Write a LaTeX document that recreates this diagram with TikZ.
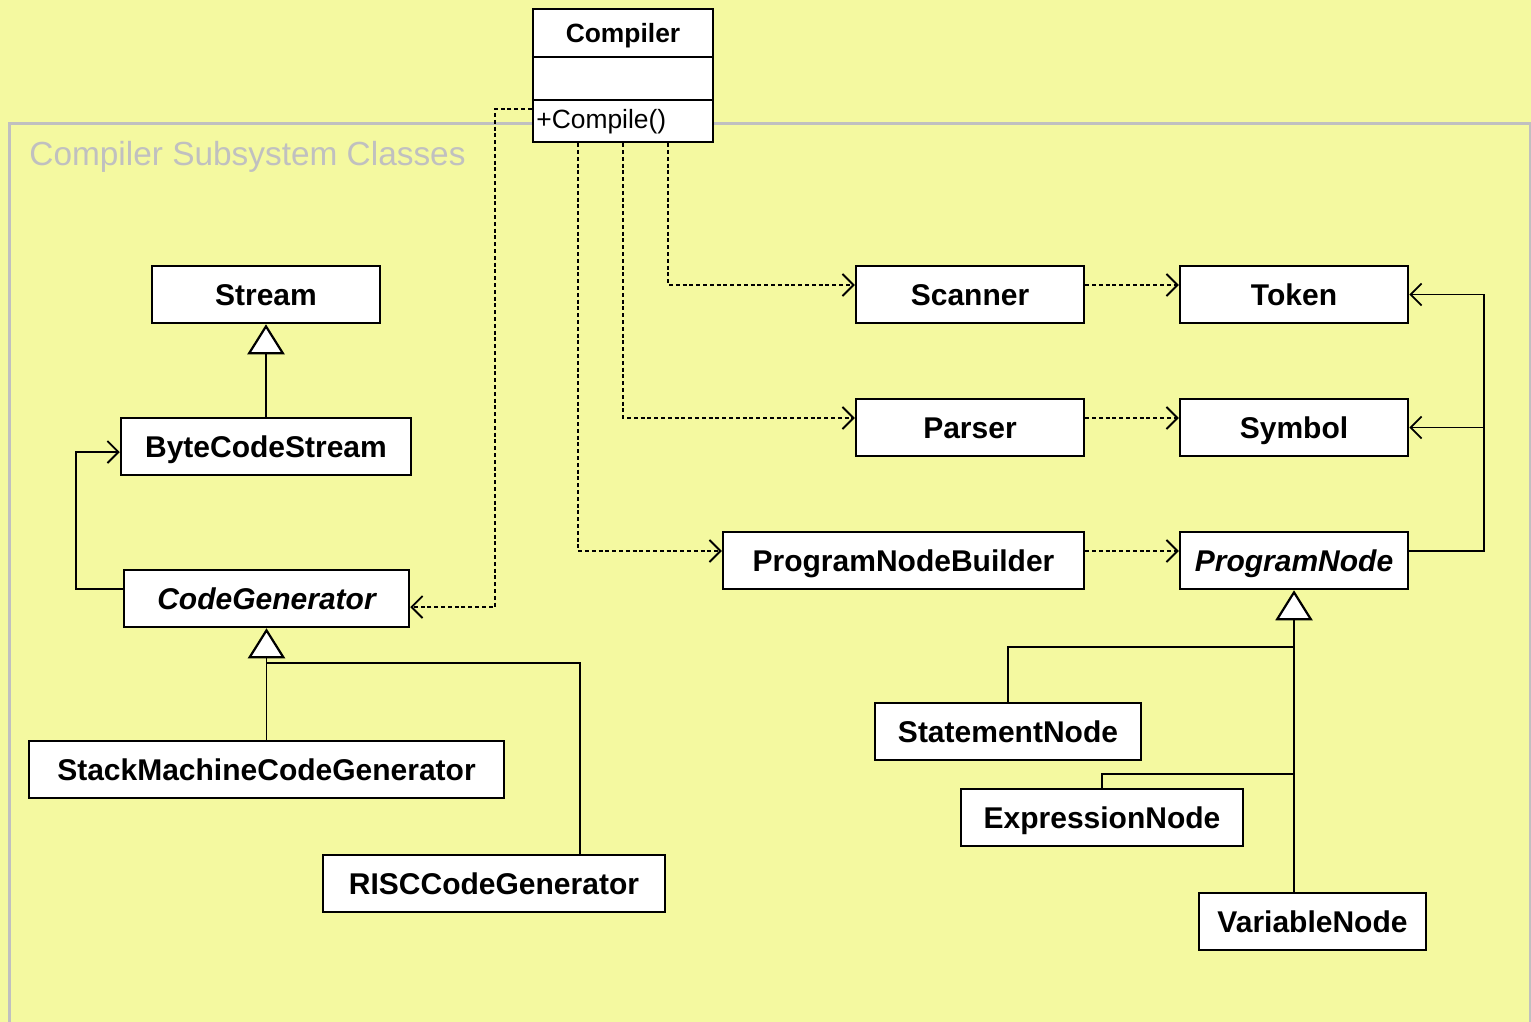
\documentclass[tikz,border=0pt]{standalone}
\usepackage{fontspec}
\setmainfont{Liberation Sans}
\usetikzlibrary{arrows.meta}
\definecolor{bgyellow}{HTML}{F4F9A0}
\definecolor{framegray}{HTML}{C0C0C0}
\begin{document}
\begin{tikzpicture}[x=0.5pt,y=-0.5pt,
  cls/.style={draw=black, line width=1.25pt, fill=white, minimum height=28.5pt,
    inner sep=0pt, text height=11.25pt, text depth=0pt,
    font=\fontsize{15}{18}\selectfont\bfseries},
  abstract/.style={cls, font=\fontsize{15}{18}\selectfont\bfseries\itshape},
  dep/.style={line width=0.9pt, dash pattern=on 2pt off 1.4pt,
    -{Straight Barb[length=5.5pt,width=11pt,line width=0.9pt]}},
  assoc/.style={line width=0.8pt, -{Straight Barb[length=5.5pt,width=11pt,line width=0.9pt]}},
  gen/.style={line width=0.8pt, -{Triangle[length=15pt,width=18.5pt,fill=white,line width=1.1pt]}},
  link/.style={line width=0.8pt}]

% canvas and package frame
\useasboundingbox (0,0) rectangle (1531,1022);
\fill[bgyellow] (0,0) rectangle (1531,1022);
\draw[framegray, line width=1.5pt] (9,1030) -- (9,124) -- (1530,124) -- (1530,1030);
\node[anchor=base west, inner sep=0pt, text=framegray, font=\fontsize{16.7}{20}\selectfont]
  (pkgtitle) at (29,165) {Compiler Subsystem Classes};

% Compiler class with its three compartments
\node[draw=black, line width=1.25pt, fill=white, minimum width=90pt, minimum height=66.5pt,
  inner sep=0pt] (comp) at (623,75.5) {};
\draw[line width=1.25pt] (comp.west |- 0,57) -- (comp.east |- 0,57);
\draw[line width=1.25pt] (comp.west |- 0,100) -- (comp.east |- 0,100);
\node[anchor=base, inner sep=0pt, font=\fontsize{13.2}{16}\selectfont\bfseries]
  (compname) at (623,43) {Compiler};
\node[anchor=base west, inner sep=0pt, font=\fontsize{13.2}{16}\selectfont]
  (compop) at (536,128) {+Compile()};

% code generation side
\node[cls, minimum width=114pt] (stream) at (266,294.5) {Stream};
\node[cls, minimum width=145pt] (bcs) at (266,446.5) {ByteCodeStream};
\node[abstract, minimum width=142.5pt] (codegen) at (266.5,598.5) {CodeGenerator};
\node[cls, minimum width=237.5pt] (stack) at (266.5,769.5) {StackMachineCodeGenerator};
\node[cls, minimum width=171pt] (risc) at (494,883.5) {RISCCodeGenerator};

% front end side
\node[cls, minimum width=114pt] (scan) at (970,294.5) {Scanner};
\node[cls, minimum width=114pt] (token) at (1294,294.5) {Token};
\node[cls, minimum width=114pt] (parser) at (970,427.5) {Parser};
\node[cls, minimum width=114pt] (sym) at (1294,427.5) {Symbol};
\node[cls, minimum width=180.5pt] (pnb) at (903.5,560.5) {ProgramNodeBuilder};
\node[abstract, minimum width=114pt] (pn) at (1294,560.5) {ProgramNode};
\node[cls, minimum width=133pt] (stmt) at (1008,731.5) {StatementNode};
\node[cls, minimum width=141pt] (expr) at (1102,817.5) {ExpressionNode};
\node[cls, minimum width=113.5pt] (var) at (1312.5,921.5) {VariableNode};

% routing points
\coordinate (cgx) at (495,300);
\coordinate (bcx) at (76,500);
\coordinate (cgj) at (266,663);
\coordinate (rj) at (580,700);
\coordinate (rx) at (1484,427.5);
\coordinate (pj1) at (1294,647);
\coordinate (pj2) at (1294,774);

% generalizations
\draw[gen] (bcs.north) -- (stream.south);
\draw[gen] (stack.north) -- (codegen.south);
\draw[link] (risc.north -| rj) |- (cgj);
\draw[gen] (var.north -| pn.south) -- (pn.south);
\draw[link] (stmt.north) |- (pj1);
\draw[link] (expr.north) |- (pj2);

% associations
\draw[assoc] ([yshift=4.75pt]codegen.west) -| (bcx) |- ([yshift=-2.75pt]bcs.west);
\draw[assoc] ([yshift=4.75pt]pn.east) -| (rx) |- (token.east);
\draw[assoc] (rx |- sym.east) -- (sym.east);

% dependencies
\draw[dep] ([yshift=-16.75pt]comp.west) -| (cgx) |- ([yshift=-4.25pt]codegen.east);
\draw[dep] ([xshift=22.5pt]comp.south) |- ([yshift=4.75pt]scan.west);
\draw[dep] (comp.south) |- ([yshift=4.75pt]parser.west);
\draw[dep] ([xshift=-22.5pt]comp.south) |- ([yshift=4.75pt]pnb.west);
\draw[dep] ([yshift=4.75pt]scan.east) -- ([yshift=4.75pt]token.west);
\draw[dep] ([yshift=4.75pt]parser.east) -- ([yshift=4.75pt]sym.west);
\draw[dep] ([yshift=4.75pt]pnb.east) -- ([yshift=4.75pt]pn.west);
\end{tikzpicture}
\end{document}
